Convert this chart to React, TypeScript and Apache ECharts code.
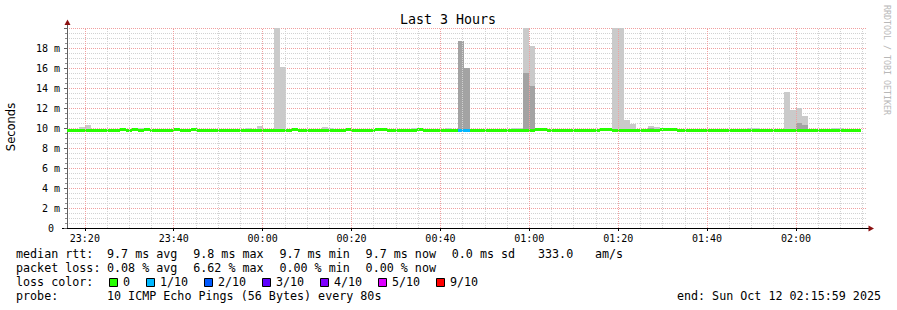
import React, { useEffect, useRef } from 'react';
import * as echarts from 'echarts';

// ---------------- data ----------------
const xTickLabels = ['23:20', '23:40', '00:00', '00:20', '00:40', '01:00', '01:20', '01:40', '02:00'];
const startTime = '23:15:59';
const endTime = '02:15:59';
const stepSeconds = 80;

// median rtt per 80 s step (ms)
const median = [
  9.7, 9.7, 9.7, 9.7, 9.7, 9.7, 9.7, 9.7, 9.7, 9.8,
  9.7, 9.8, 9.7, 9.8, 9.7, 9.7, 9.7, 9.7, 9.8, 9.7,
  9.7, 9.8, 9.7, 9.7, 9.7, 9.7, 9.7, 9.7, 9.7, 9.7,
  9.7, 9.7, 9.7, 9.7, 9.7, 9.7, 9.7, 9.7, 9.8, 9.7,
  9.7, 9.7, 9.7, 9.7, 9.7, 9.7, 9.7, 9.8, 9.7, 9.7,
  9.7, 9.7, 9.8, 9.8, 9.7, 9.7, 9.7, 9.7, 9.7, 9.8,
  9.7, 9.7, 9.7, 9.7, 9.7, 9.7, 9.7, 9.7, 9.7, 9.7,
  9.7, 9.7, 9.7, 9.7, 9.7, 9.7, 9.7, 9.7, 9.7, 9.8,
  9.8, 9.7, 9.7, 9.7, 9.7, 9.7, 9.7, 9.7, 9.7, 9.7,
  9.8, 9.8, 9.7, 9.7, 9.7, 9.7, 9.7, 9.7, 9.7, 9.7,
  9.8, 9.8, 9.8, 9.7, 9.7, 9.7, 9.7, 9.7, 9.7, 9.7,
  9.7, 9.7, 9.7, 9.7, 9.7, 9.7, 9.7, 9.7, 9.7, 9.7,
  9.7, 9.7, 9.7, 9.7, 9.7, 9.7, 9.7, 9.7, 9.7, 9.7,
  9.7, 9.7, 9.7, 9.7,
];

// outer smoke (highest ping) per step (ms)
const smokeMax = [
  9.8, 9.8, 10.1, 10.3, 9.9, 9.8, 9.8, 9.8, 9.8, 9.8,
  9.8, 9.8, 10.0, 9.8, 9.8, 9.95, 9.8, 9.8, 9.8, 9.8,
  9.8, 10.0, 9.8, 9.8, 9.8, 9.8, 9.8, 9.8, 9.8, 9.8,
  10.0, 9.8, 10.2, 9.8, 9.8, 20.5, 16.1, 9.8, 9.8, 9.8,
  9.8, 9.8, 9.95, 10.1, 10.0, 9.8, 9.8, 9.8, 9.8, 9.8,
  9.8, 9.8, 9.8, 9.8, 9.8, 9.8, 9.8, 9.8, 10.0, 9.8,
  9.8, 9.8, 9.8, 9.95, 10.0, 9.8, 18.7, 16.0, 9.8, 9.8,
  9.8, 9.8, 9.8, 9.8, 9.8, 10.0, 10.0, 20.5, 18.2, 9.8,
  9.8, 9.8, 9.95, 9.95, 9.8, 9.8, 9.8, 9.8, 9.8, 9.8,
  9.8, 9.8, 20.5, 20.5, 10.8, 10.4, 9.8, 9.95, 10.2, 10.1,
  9.8, 9.8, 9.8, 9.8, 9.8, 9.8, 9.8, 9.8, 9.8, 9.8,
  9.8, 9.8, 9.8, 9.8, 9.8, 10.0, 10.0, 9.8, 9.8, 9.8,
  9.8, 13.6, 11.8, 12.0, 11.2, 9.8, 9.8, 9.8, 9.8, 10.0,
  10.0, 9.8, 9.8, 9.8,
];

// inner (darker) smoke per step (ms)
const smokeInner = [
  9.7, 9.7, 9.7, 9.7, 9.7, 9.7, 9.7, 9.7, 9.7, 9.7,
  9.7, 9.7, 9.7, 9.7, 9.7, 9.7, 9.7, 9.7, 9.7, 9.7,
  9.7, 9.7, 9.7, 9.7, 9.7, 9.7, 9.7, 9.7, 9.7, 9.7,
  9.7, 9.7, 9.7, 9.7, 9.7, 9.7, 9.7, 9.7, 9.7, 9.7,
  9.7, 9.7, 9.7, 9.7, 9.7, 9.7, 9.7, 9.7, 9.7, 9.7,
  9.7, 9.7, 9.7, 9.7, 9.7, 9.7, 9.7, 9.7, 9.7, 9.7,
  9.7, 9.7, 9.7, 9.7, 9.7, 9.7, 18.7, 16.0, 9.7, 9.7,
  9.7, 9.7, 9.7, 9.7, 9.7, 9.7, 9.7, 15.5, 14.2, 9.7,
  9.7, 9.7, 9.7, 9.7, 9.7, 9.7, 9.7, 9.7, 9.7, 9.7,
  9.7, 9.7, 9.7, 9.7, 9.7, 9.7, 9.7, 9.7, 10.05, 9.7,
  9.7, 9.7, 9.7, 9.7, 9.7, 9.7, 9.7, 9.7, 9.7, 9.7,
  9.7, 9.7, 9.7, 9.7, 9.7, 9.7, 9.7, 9.7, 9.7, 9.7,
  9.7, 9.7, 9.7, 10.5, 10.3, 9.7, 9.7, 9.7, 9.7, 9.7,
  9.7, 9.7, 9.7, 9.7,
];

// lost pings out of 10 per step
const lossTenths = [
  0, 0, 0, 0, 0, 0, 0, 0, 0, 0,
  0, 0, 0, 0, 0, 0, 0, 0, 0, 0,
  0, 0, 0, 0, 0, 0, 0, 0, 0, 0,
  0, 0, 0, 0, 0, 0, 0, 0, 0, 0,
  0, 0, 0, 0, 0, 0, 0, 0, 0, 0,
  0, 0, 0, 0, 0, 0, 0, 0, 0, 0,
  0, 0, 0, 0, 0, 0, 1, 1, 0, 0,
  0, 0, 0, 0, 0, 0, 0, 0, 0, 0,
  0, 0, 0, 0, 0, 0, 0, 0, 0, 0,
  0, 0, 0, 0, 0, 0, 0, 0, 0, 0,
  0, 0, 0, 0, 0, 0, 0, 0, 0, 0,
  0, 0, 0, 0, 0, 0, 0, 0, 0, 0,
  0, 0, 0, 0, 0, 0, 0, 0, 0, 0,
  0, 0, 0, 0,
];

const rttStats = [['9.7', 'avg'], ['9.8', 'max'], ['9.7', 'min'], ['9.7', 'now'], ['0.0', 'sd']];
const rttRate = '333.0';
const lossStats = [['0.08', 'avg'], ['6.62', 'max'], ['0.00', 'min'], ['0.00', 'now']];
const lossLegendLabels = ['0', '1/10', '2/10', '3/10', '4/10', '5/10', '9/10'];
const lossLegendTenths = [0, 1, 2, 3, 4, 5, 9];
const lossColors: Record<number, string> = {
  0: '#26ff00', 1: '#00b8ff', 2: '#0059ff', 3: '#5e00ff', 4: '#7e00ff', 5: '#dd00ff', 9: '#ff0000',
};
const probeText = '10 ICMP Echo Pings (56 Bytes) every 80s';
const endText = 'end: Sun Oct 12 02:15:59 2025';
const titleText = 'Last 3 Hours';

// ---------------- helpers ----------------
// seconds after 23:00:00 (wrapping past midnight)
const toSec = (s: string) => {
  const p = s.split(':').map(Number);
  return (((p[0] - 23 + 24) % 24) * 3600) + p[1] * 60 + (p[2] || 0);
};
const fmtSec = (v: number) => {
  const h = (23 + Math.floor(v / 3600)) % 24;
  const m = Math.floor((v % 3600) / 60);
  return String(h).padStart(2, '0') + ':' + String(m).padStart(2, '0');
};

const T0 = toSec(startTime);
const T1 = toSec(endTime);
const tickValues = xTickLabels.map(toSec);

const MONO = '"DejaVu Sans Mono", monospace';
const LIGHT = '#cacaca';
const DARK = '#a3a3a3';
const MINOR = '#d2d2d2';
const MAJOR = '#f0a0a0';

export default function App() {
  const ref = useRef<HTMLDivElement>(null);
  useEffect(() => {
    if (!ref.current) return;
    const chart = echarts.init(ref.current, undefined, { renderer: 'svg' });

    const rows = median.map((m, i) => [T0 + i * stepSeconds, m, smokeMax[i], smokeInner[i], lossTenths[i]]);

    // vertical grid lines (5 min minor, 20 min major)
    const vLines: any[] = [];
    for (let v = Math.ceil(T0 / 300) * 300; v < T1; v += 300) {
      const major = v % 1200 === 0;
      vLines.push({ xAxis: v, lineStyle: { color: major ? MAJOR : MINOR, type: [1, 1], width: 1 } });
    }

    const text = (x: number, y: number, t: string, extra: any = {}) => ({
      type: 'text', x, y, silent: true,
      style: { text: t, fontFamily: MONO, fontSize: 11.7, fill: '#000', align: 'left', verticalAlign: 'middle', ...extra },
    });

    const graphics: any[] = [];
    graphics.push(text(448, 19, titleText, { align: 'center', fontSize: 13.3 }));
    graphics.push({
      type: 'text', x: 11, y: 127, rotation: Math.PI / 2, silent: true,
      style: { text: 'Seconds', fontFamily: '"DejaVu Sans", sans-serif', fontSize: 11.5, fill: '#000', align: 'center', verticalAlign: 'middle' },
    });
    graphics.push({
      type: 'text', x: 887, y: 60, rotation: -Math.PI / 2, silent: true,
      style: { text: 'RRDTOOL / TOBI OETIKER', fontFamily: MONO, fontSize: 8.3, fill: '#b8b8b8', align: 'center', verticalAlign: 'middle' },
    });
    // axis extensions and arrows
    graphics.push({ type: 'line', silent: true, shape: { x1: 67.5, y1: 24, x2: 67.5, y2: 28 }, style: { stroke: '#606060', lineWidth: 1 } });
    graphics.push({ type: 'line', silent: true, shape: { x1: 62, y1: 228.5, x2: 67, y2: 228.5 }, style: { stroke: '#000', lineWidth: 1 } });
    graphics.push({ type: 'line', silent: true, shape: { x1: 867, y1: 228.5, x2: 870, y2: 228.5 }, style: { stroke: '#000', lineWidth: 1 } });
    graphics.push({ type: 'polygon', silent: true, shape: { points: [[67.5, 19.5], [64.5, 25], [70.5, 25]] }, style: { fill: '#8b1010' } });
    graphics.push({ type: 'polygon', silent: true, shape: { points: [[874, 228.5], [868.5, 225.5], [868.5, 231.5]] }, style: { fill: '#8b1010' } });

    // legend lines
    const colX = (k: number) => 107 + k * 86.2;
    graphics.push(text(16, 254, 'median rtt:'));
    rttStats.forEach(([v, k], i) => graphics.push(text(colX(i), 254, `${v} ms ${k}`)));
    graphics.push(text(colX(5), 254, rttRate));
    graphics.push(text(colX(5) + 57, 254, 'am/s'));
    graphics.push(text(16, 268, 'packet loss:'));
    lossStats.forEach(([v, k], i) => graphics.push(text(colX(i), 268, `${v} % ${k}`)));
    graphics.push(text(16, 282, 'loss color:'));
    let sq = 109;
    lossLegendLabels.forEach((lab, i) => {
      graphics.push({
        type: 'rect', silent: true, shape: { x: sq + 0.5, y: 278.5, width: 8, height: 8 },
        style: { fill: lossColors[lossLegendTenths[i]], stroke: '#000', lineWidth: 1 },
      });
      const lx = sq + 14;
      graphics.push(text(lx, 282, lab));
      sq = lx + lab.length * 7 + 16;
    });
    graphics.push(text(16, 296, 'probe:'));
    graphics.push(text(107, 296, probeText));
    graphics.push(text(881, 296, endText, { align: 'right' }));

    const option: any = {
      animation: false,
      backgroundColor: '#ffffff',
      grid: { left: 67, top: 28, width: 800, height: 200, containLabel: false },
      xAxis: {
        type: 'value', min: T0, max: T1,
        axisLine: { show: true, lineStyle: { color: '#000', width: 1 } },
        axisTick: { show: true, customValues: tickValues, length: 3, lineStyle: { color: '#000' } },
        axisLabel: {
          customValues: tickValues, formatter: (v: number) => fmtSec(v),
          fontFamily: MONO, fontSize: 10, color: '#000', margin: 5,
        },
        splitLine: { show: false },
      },
      yAxis: {
        type: 'value', min: 0, max: 20, interval: 2,
        axisLine: { show: true, lineStyle: { color: '#606060', width: 1 } },
        axisTick: { show: true, length: 3, lineStyle: { color: '#606060' } },
        minorTick: { show: true, splitNumber: 4, length: 2, lineStyle: { color: '#909090' } },
        axisLabel: {
          showMaxLabel: false,
          formatter: (v: number) => (v === 0 ? '{z|0}' : v === 20 ? '' : `${v} m`),
          rich: { z: { padding: [0, 6, 0, 0], fontFamily: MONO, fontSize: 10, color: '#000' } },
          fontFamily: MONO, fontSize: 10, color: '#000', margin: 7,
        },
        splitLine: { show: true, lineStyle: { color: MAJOR, type: [1, 1], width: 1 } },
        minorSplitLine: { show: true, lineStyle: { color: MINOR, type: [1, 1], width: 1 } },
      },
      series: [
        {
          type: 'line', data: [], z: 1, silent: true,
          markLine: { silent: true, symbol: ['none', 'none'], label: { show: false }, animation: false, data: vLines },
        },
        {
          type: 'custom', z: 2, clip: true, silent: true,
          encode: { x: 0, y: 2 },
          data: rows,
          renderItem: (params: any, api: any) => {
            const t = api.value(0);
            const med = api.value(1);
            const mx = api.value(2);
            const inner = api.value(3);
            const a = api.coord([t, med]);
            const b = api.coord([t + stepSeconds, mx]);
            const x0 = Math.round(a[0]);
            const x1 = Math.round(b[0]);
            const yMed = Math.round(a[1]);
            const children: any[] = [];
            if (mx > med) {
              const yt = Math.round(b[1]);
              children.push({ type: 'rect', shape: { x: x0, y: yt, width: x1 - x0, height: yMed - yt }, style: { fill: LIGHT } });
            }
            if (inner > med) {
              const yi = Math.round(api.coord([t, inner])[1]);
              children.push({ type: 'rect', shape: { x: x0, y: yi, width: x1 - x0, height: yMed - yi }, style: { fill: DARK } });
            }
            return { type: 'group', children };
          },
        },
        {
          type: 'custom', z: 3, clip: true, silent: true,
          encode: { x: 0, y: 1 },
          data: rows,
          renderItem: (params: any, api: any) => {
            const t = api.value(0);
            const a = api.coord([t, api.value(1)]);
            const b = api.coord([t + stepSeconds, api.value(1)]);
            const x0 = Math.round(a[0]);
            const x1 = Math.round(b[0]);
            const y = Math.floor(a[1] - 1.5);
            return {
              type: 'rect', shape: { x: x0, y, width: x1 - x0, height: 3 },
              style: { fill: lossColors[api.value(4)] || '#26ff00' },
            };
          },
        },
      ],
      graphic: graphics,
    };
    chart.setOption(option);
    return () => chart.dispose();
  }, []);
  return <div ref={ref} style={{ position: 'fixed', left: 0, top: 0, width: 897, height: 310, background: '#fff' }} />;
}
